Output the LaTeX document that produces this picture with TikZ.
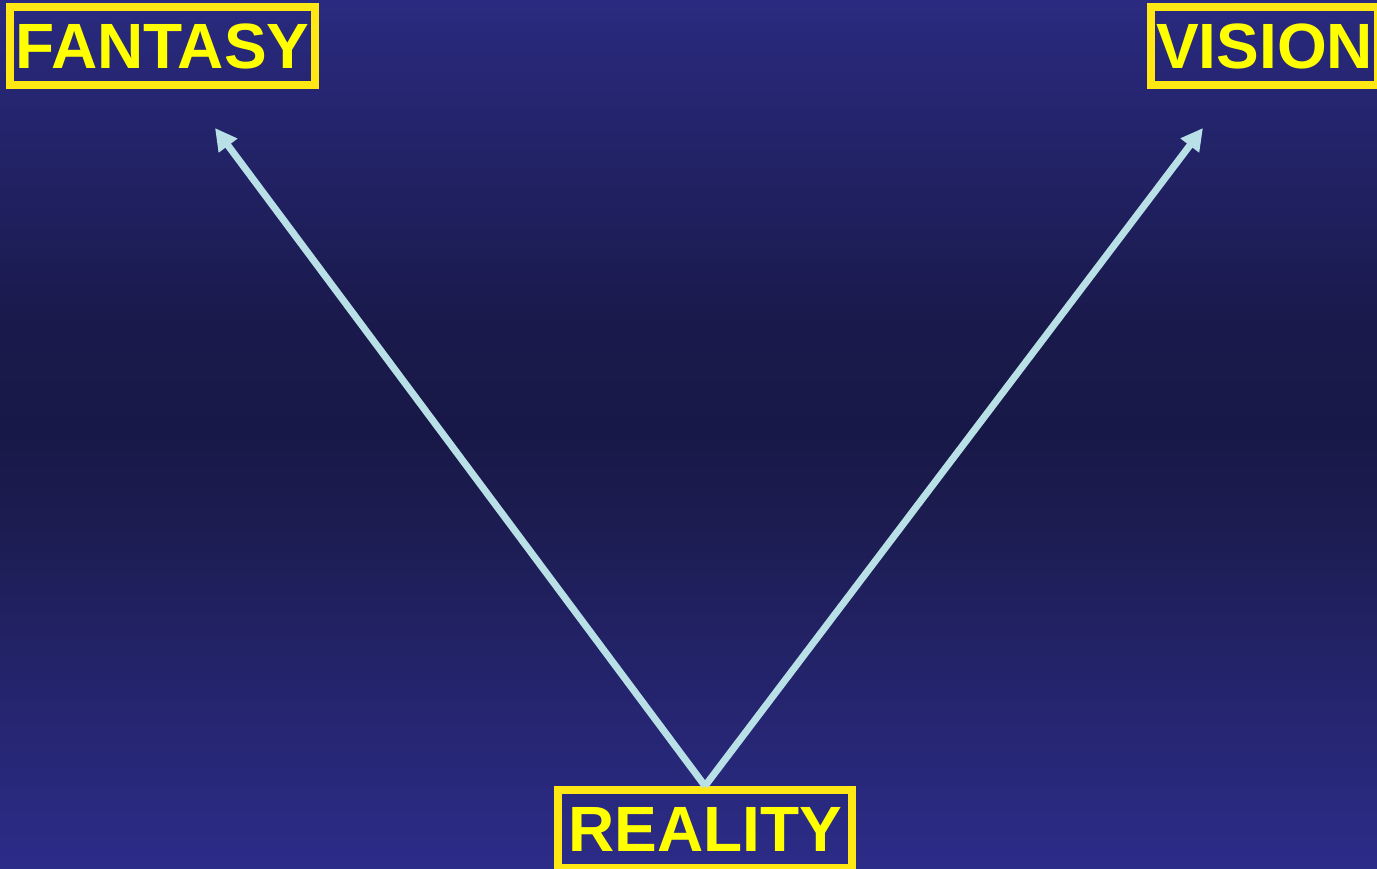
\documentclass[tikz,border=0pt]{standalone}
\usepackage{fontspec}
\setmainfont{Liberation Sans}
\usetikzlibrary{arrows.meta}
\definecolor{boxyellow}{RGB}{255,232,20}
\definecolor{txtyellow}{RGB}{255,255,0}
\definecolor{arrowblue}{RGB}{184,224,230}
% custom vertical background: path spans 25bp (bottom) .. 75bp (top)
\pgfdeclareverticalshading{slidebg}{100bp}{%
  rgb(0bp)=(0.173,0.173,0.537);
  rgb(25bp)=(0.173,0.173,0.537);
  rgb(38bp)=(0.133,0.133,0.400);
  rgb(45bp)=(0.110,0.110,0.318);
  rgb(50bp)=(0.094,0.094,0.282);
  rgb(56bp)=(0.098,0.098,0.294);
  rgb(62bp)=(0.120,0.120,0.360);
  rgb(75bp)=(0.165,0.165,0.502);
  rgb(100bp)=(0.165,0.165,0.502)}
\tikzset{
  wordbox/.style={draw=boxyellow, line width=8pt, text=txtyellow,
    font=\fontsize{64}{70}\selectfont\bfseries, inner sep=0pt,
    minimum height=78pt, anchor=center},
  linkarrow/.style={draw=arrowblue, line width=7pt,
    -{Triangle[length=22pt,width=22pt]}}
}
\begin{document}
\begin{tikzpicture}[x=1pt,y=-1pt]
\useasboundingbox (0,0) rectangle (1377,869);
\clip (0,0) rectangle (1377,869);
\shade[shading=slidebg] (0,0) rectangle (1377,869);
\node[wordbox, minimum width=305pt] (F) at (162.5,46) {FANTASY};
\node[wordbox, minimum width=227pt] (V) at (1264.5,46) {VISION};
\node[wordbox, minimum width=294pt] (R) at (705,829) {REALITY};
\coordinate (tipF) at (215,128);
\coordinate (tipV) at (1203,128);
\draw[linkarrow] (R.north) -- (tipF);
\draw[linkarrow] (R.north) -- (tipV);
\end{tikzpicture}
\end{document}
